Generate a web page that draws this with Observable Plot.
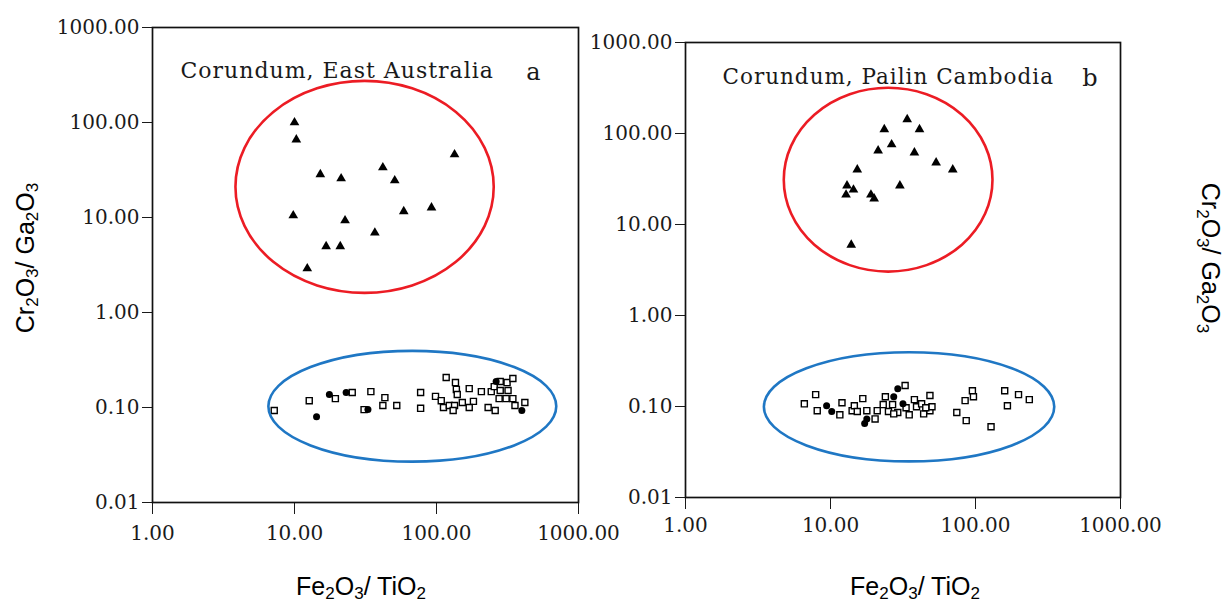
<!DOCTYPE html>
<html>
<head>
<meta charset="utf-8">
<script src="https://cdn.jsdelivr.net/npm/d3@7"></script>
<script src="https://cdn.jsdelivr.net/npm/@observablehq/plot@0.6"></script>
<style>
  html, body { margin: 0; padding: 0; background: #fff; }
  #root { position: relative; width: 1229px; height: 606px; background: #fff; overflow: hidden; }
  .panel { position: absolute; top: 0; }
  .lab { position: absolute; font-family: "Liberation Sans Narrow", "Liberation Sans", Arial, sans-serif; font-size: 25px; color: #000; white-space: nowrap; transform: translate(-50%, -50%); }
  .lab sub { font-size: 0.68em; vertical-align: -0.25em; line-height: 0; }
  .rotL { transform: translate(-50%, -50%) rotate(-90deg); }
  .rotR { transform: translate(-50%, -50%) rotate(90deg); }
</style>
</head>
<body>
<div id="root">
  <div id="pa" class="panel" style="left:0px"></div>
  <div id="pb" class="panel" style="left:600px"></div>
  <div class="lab" style="left:361px; top:586px">Fe<sub>2</sub>O<sub>3</sub>/ TiO<sub>2</sub></div>
  <div class="lab" style="left:915px; top:586px">Fe<sub>2</sub>O<sub>3</sub>/ TiO<sub>2</sub></div>
  <div class="lab rotL" style="left:25px; top:258px">Cr<sub>2</sub>O<sub>3</sub>/ Ga<sub>2</sub>O<sub>3</sub></div>
  <div class="lab rotR" style="left:1210px; top:258px">Cr<sub>2</sub>O<sub>3</sub>/ Ga<sub>2</sub>O<sub>3</sub></div>
</div>
<script>
// ---------- tick values ----------
const xTicks = [1, 10, 100, 1000];
const yTicks = [0.01, 0.1, 1, 10, 100, 1000];

// ---------- panel titles ----------
const titleA = "Corundum, East Australia";
const letterA = "a";
const titleB = "Corundum, Pailin Cambodia";
const letterB = "b";

// ---------- Panel a: East Australia ----------
// triangles (high Cr2O3/Ga2O3)
const triA_x = [10.0, 10.3, 15.2, 21.3, 41.9, 50.8, 134, 9.8, 22.7, 58.8, 92.2, 36.8, 16.7, 21.0, 12.3];
const triA_y = [100, 66, 28.4, 25.7, 33.6, 24.5, 46, 10.5, 9.3, 11.6, 12.7, 6.9, 4.96, 4.96, 2.9];
// open squares
const sqA_x = [7.2, 12.7, 19.4, 25.5, 34.5, 30.9, 43.3, 41.9, 52.5, 77.3, 77.3, 98.4, 117, 136, 138, 140, 108, 112, 123, 134, 131, 152, 170, 182, 170, 207, 231, 259, 243, 255, 281, 314, 345, 281, 319, 276, 309, 345, 357, 419];
const sqA_y = [0.093, 0.118, 0.124, 0.144, 0.147, 0.095, 0.127, 0.105, 0.105, 0.144, 0.098, 0.131, 0.207, 0.183, 0.155, 0.137, 0.118, 0.100, 0.105, 0.105, 0.093, 0.113, 0.158, 0.116, 0.100, 0.147, 0.100, 0.093, 0.147, 0.166, 0.188, 0.183, 0.202, 0.151, 0.151, 0.124, 0.124, 0.124, 0.105, 0.113];
// filled circles
const ciA_x = [14.3, 17.6, 23.1, 32.9, 263, 399];
const ciA_y = [0.080, 0.137, 0.144, 0.095, 0.188, 0.093];

// ---------- Panel b: Pailin Cambodia ----------
const triB_x = [33.8, 23.5, 41.1, 26.4, 21.3, 37.9, 53.5, 69.7, 15.3, 13.0, 14.4, 12.8, 19.0, 20.0, 30.1, 13.9];
const triB_y = [143, 111, 111, 75.6, 64.9, 61.7, 47.8, 40.1, 40.1, 26.7, 24.1, 21.2, 21.2, 19.2, 26.7, 5.96];
const sqB_x = [6.6, 7.9, 8.1, 12.0, 11.6, 14.1, 14.6, 16.7, 15.3, 17.8, 20.3, 23.1, 23.9, 25.1, 26.8, 29.1, 32.7, 33.2, 34.9, 37.9, 39.2, 42.5, 43.9, 48.5, 48.5, 50.1, 74.3, 84.8, 86.3, 95.2, 96.8, 128, 159, 166, 198, 235, 21.0, 27.3, 45.4];
const sqB_y = [0.107, 0.135, 0.090, 0.110, 0.081, 0.090, 0.102, 0.122, 0.088, 0.090, 0.073, 0.105, 0.128, 0.088, 0.105, 0.086, 0.170, 0.097, 0.081, 0.119, 0.0995, 0.107, 0.083, 0.132, 0.090, 0.0995, 0.086, 0.116, 0.070, 0.149, 0.128, 0.060, 0.149, 0.102, 0.135, 0.119, 0.090, 0.083, 0.097];
const ciB_x = [9.4, 10.2, 17.2, 17.8, 27.3, 29.1, 31.6];
const ciB_y = [0.102, 0.088, 0.065, 0.073, 0.128, 0.157, 0.107];

// ---------- annotation ellipses: [xMin, xMax, yMin, yMax] in data units ----------
const ellRedA  = [3.87, 255, 1.59, 271];
const ellBlueA = [6.6, 703, 0.0266, 0.39];
const ellRedB  = [4.8, 132, 3.0, 314];
const ellBlueB = [3.5, 352, 0.0246, 0.39];
const redColor = "#ec1c24";
const blueColor = "#1f77c4";

const fmt = d3.format(".2f");
const zip = (xs, ys) => xs.map((x, i) => ({x, y: ys[i]}));

function makePanel(opts) {
  const svg = Plot.plot({
    width: opts.width,
    height: 560,
    marginLeft: opts.ml,
    marginRight: opts.mr,
    marginTop: opts.mt,
    marginBottom: 560 - opts.bottom,
    x: {type: "log", domain: [1, 1000], ticks: xTicks, tickFormat: fmt, tickSize: 12, tickPadding: opts.xpad, label: null},
    y: {type: "log", domain: [0.01, 1000], ticks: yTicks, tickFormat: fmt, tickSize: 10, tickPadding: 3, label: null},
    style: {fontFamily: "'DejaVu Serif', serif", fontSize: "20px", color: "#1a1a1a", background: "transparent", overflow: "visible"},
    marks: [
      Plot.frame({stroke: "#111", strokeWidth: 1.7}),
      Plot.text([opts.title], {frameAnchor: "top-left", dx: opts.tdx, dy: opts.tdy, textAnchor: "start", fontSize: opts.tfs, fill: "#1a1a1a", style: "letter-spacing:1px"}),
      Plot.text([opts.letter], {frameAnchor: "top-right", dx: opts.ldx, dy: opts.tdy, fontSize: 24, fill: "#1a1a1a"}),
      Plot.dot(zip(opts.tx, opts.ty), {x: "x", y: "y", symbol: "triangle", r: 3.6, fill: "#000", stroke: "none"}),
      Plot.dot(zip(opts.sx, opts.sy), {x: "x", y: "y", symbol: "square", r: 3.4, fill: "#fff", stroke: "#000", strokeWidth: 1.4}),
      Plot.dot(zip(opts.cx, opts.cy), {x: "x", y: "y", symbol: "circle", r: 3.5, fill: "#000", stroke: "none"})
    ]
  });
  // letter-spacing on titles
  svg.querySelectorAll("text").forEach(t => {
    if (t.textContent === opts.title) t.setAttribute("letter-spacing", "1");
  });
  const sx = svg.scale("x"), sy = svg.scale("y");
  for (const [e, col] of opts.ellipses) {
    const x0 = sx.apply(e[0]), x1 = sx.apply(e[1]);
    const y0 = sy.apply(e[2]), y1 = sy.apply(e[3]);
    const el = document.createElementNS("http://www.w3.org/2000/svg", "ellipse");
    el.setAttribute("cx", (x0 + x1) / 2);
    el.setAttribute("cy", (y0 + y1) / 2);
    el.setAttribute("rx", Math.abs(x1 - x0) / 2);
    el.setAttribute("ry", Math.abs(y1 - y0) / 2);
    el.setAttribute("fill", "none");
    el.setAttribute("stroke", col);
    el.setAttribute("stroke-width", 2.6);
    svg.appendChild(el);
  }
  return svg;
}

document.getElementById("pa").appendChild(makePanel({
  width: 600, ml: 152, mr: 22, mt: 27, bottom: 502, xpad: 11,
  title: titleA, letter: letterA, tdx: 28, tdy: 35, ldx: -38, tfs: 22,
  tx: triA_x, ty: triA_y, sx: sqA_x, sy: sqA_y, cx: ciA_x, cy: ciA_y,
  ellipses: [[ellRedA, redColor], [ellBlueA, blueColor]]
}));

document.getElementById("pb").appendChild(makePanel({
  width: 629, ml: 85, mr: 109, mt: 42, bottom: 497, xpad: 8,
  title: titleB, letter: letterB, tdx: 37, tdy: 26, ldx: -23, tfs: 21.5,
  tx: triB_x, ty: triB_y, sx: sqB_x, sy: sqB_y, cx: ciB_x, cy: ciB_y,
  ellipses: [[ellRedB, redColor], [ellBlueB, blueColor]]
}));
</script>
</body>
</html>
